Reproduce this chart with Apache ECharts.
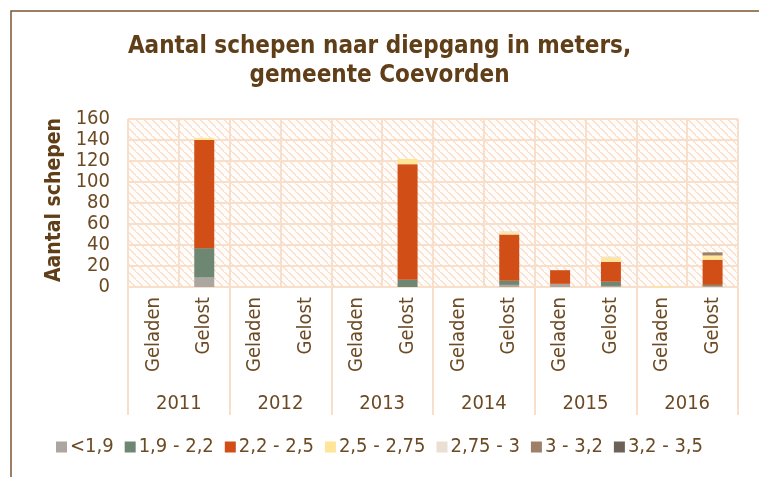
<!DOCTYPE html>
<html>
<head>
<meta charset="utf-8">
<script src="https://cdn.jsdelivr.net/npm/echarts@6/dist/echarts.min.js"></script>
<style>
  html, body { margin: 0; padding: 0; background: #fff; }
  #main { width: 759px; height: 477px; }
</style>
</head>
<body>
<div id="main"></div>
<script>
// categorieen: per jaar geladen / gelost
var soort = ['Geladen', 'Gelost'];
var jaren = ['2011', '2012', '2013', '2014', '2015', '2016'];
var categorieen = [];
jaren.forEach(function () { categorieen.push(soort[0], soort[1]); });

var klassen = ['<1,9', '1,9 - 2,2', '2,2 - 2,5', '2,5 - 2,75', '2,75 - 3', '3 - 3,2', '3,2 - 3,5'];
var kleuren = ['#aba6a0', '#6e8773', '#d14e16', '#ffe597', '#e9dfd2', '#9e8069', '#6c6259'];

// waarden in volgorde: 2011 G/Gl, 2012 G/Gl, ... 2016 G/Gl
var kleiner19  = [0, 9, 0, 0, 0, 0, 0, 2, 3, 1, 0, 1];
var van19tot22 = [0, 28, 0, 0, 0, 7, 0, 4, 0, 4, 0, 1];
var van22tot25 = [0, 103, 0, 0, 0, 110, 0, 44, 13, 19, 0, 24];
var van25tot275 = [0, 2, 0, 0, 0, 5, 0, 2, 0, 4, 1, 4];
var van275tot3 = [0, 0, 0, 0, 0, 0, 0, 1, 0, 1, 0, 0];
var van3tot32  = [0, 0, 0, 0, 0, 0, 0, 0, 0, 0, 0, 3];
var van32tot35 = [0, 0, 0, 0, 0, 0, 0, 0, 0, 0, 0, 0];
var reeksen = [kleiner19, van19tot22, van22tot25, van25tot275, van275tot3, van3tot32, van32tot35];

var yTicks = [0, 20, 40, 60, 80, 100, 120, 140, 160];

var tekst = '#6b4a24';
var rooster = '#f7dfcb';
var font = "'DejaVu Sans Condensed', 'DejaVu Sans', sans-serif";

// arcering achtergrond
var cv = document.createElement('canvas');
cv.width = 8; cv.height = 8;
var cx = cv.getContext('2d');
cx.fillStyle = '#fffdfb';
cx.fillRect(0, 0, 8, 8);
cx.fillStyle = '#fbe0cc';
for (var i = 0; i < 8; i++) {
  cx.fillRect(i, i, 2, 1);
}

var myChart = echarts.init(document.getElementById('main'));

var series = reeksen.map(function (d, k) {
  return {
    name: klassen[k],
    type: 'bar',
    stack: 'totaal',
    barWidth: 20,
    xAxisIndex: 0,
    itemStyle: { color: kleuren[k] },
    data: d
  };
});

var option = {
  animation: false,
  title: {
    text: 'Aantal schepen naar diepgang in meters,\ngemeente Coevorden',
    left: 'center',
    top: 27,
    textStyle: { color: '#603e18', fontSize: 24, fontWeight: 'bold', fontFamily: font, lineHeight: 29 }
  },
  graphic: [{
    type: 'rect',
    shape: { x: 11, y: 11, width: 900, height: 600 },
    style: { fill: 'none', stroke: '#7a5632', lineWidth: 1.5 },
    silent: true
  }],
  legend: {
    bottom: 15,
    left: 'center',
    itemWidth: 11,
    itemHeight: 11,
    itemGap: 11,
    icon: 'rect',
    textStyle: { color: tekst, fontSize: 20, fontFamily: font, padding: [0, 0, 0, -2] },
    data: klassen
  },
  grid: {
    left: 128, right: 21, top: 119, bottom: 190,
    show: true,
    borderWidth: 0,
    backgroundColor: { image: cv, repeat: 'repeat' }
  },
  xAxis: [{
    type: 'category',
    data: categorieen,
    axisLine: { show: true, lineStyle: { color: rooster, width: 2 } },
    axisTick: { show: false },
    splitLine: { show: true, lineStyle: { color: rooster, width: 2 } },
    axisLabel: { rotate: 90, margin: 10, color: tekst, fontSize: 20, fontFamily: font, interval: 0 }
  }, {
    type: 'category',
    position: 'bottom',
    data: jaren,
    axisLine: { show: false },
    axisTick: { show: true, length: 128, lineStyle: { color: rooster, width: 2 } },
    axisLabel: { margin: 107, color: tekst, fontSize: 20, fontFamily: font, interval: 0 }
  }],
  yAxis: {
    type: 'value',
    min: yTicks[0],
    max: yTicks[yTicks.length - 1],
    interval: 20,
    name: 'Aantal schepen',
    nameLocation: 'middle',
    nameGap: 51,
    nameTextStyle: { color: '#603e18', fontSize: 21, fontWeight: 'bold', fontFamily: font, padding: [0, 0, 0, 6] },
    axisLine: { show: false },
    axisTick: { show: false },
    splitLine: { show: true, lineStyle: { color: rooster, width: 2 } },
    axisLabel: { margin: 18, color: tekst, fontSize: 20, fontFamily: font }
  },
  series: series
};

myChart.setOption(option);
</script>
</body>
</html>
